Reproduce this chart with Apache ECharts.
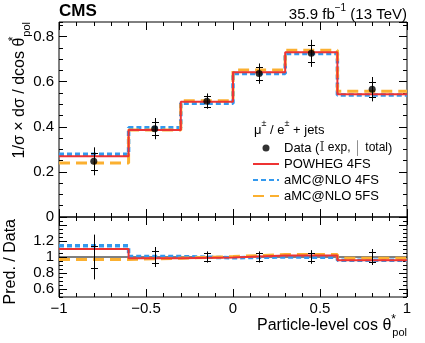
<!DOCTYPE html>
<html><head><meta charset="utf-8">
<script src="https://cdn.jsdelivr.net/npm/echarts@6/dist/echarts.min.js"></script>
<style>html,body{margin:0;padding:0;background:#fff}#c{width:425px;height:343px}</style>
</head><body><div id="c"></div>
<script>
// ---- data ----
const binEdges = [-1, -0.6, -0.3, 0, 0.3, 0.6, 1];
const binCenters = [-0.8, -0.45, -0.15, 0.15, 0.45, 0.8];
const dataValues = [0.247, 0.392, 0.514, 0.636, 0.726, 0.567];
const dataExpErr = [0.037, 0.029, 0.024, 0.030, 0.039, 0.033];
const dataTotErr = [0.062, 0.047, 0.034, 0.045, 0.060, 0.054];
const powheg4FS = [0.270, 0.386, 0.511, 0.642, 0.731, 0.545];
const amcnlo4FS = [0.278, 0.396, 0.505, 0.637, 0.725, 0.541];
const amcnlo5FS = [0.240, 0.386, 0.516, 0.652, 0.740, 0.558];
const ratioPowheg4FS = [1.10, 0.985, 0.995, 1.02, 1.02, 0.96];
const ratioAmcnlo4FS = [1.14, 1.005, 0.99, 1.00, 0.995, 0.96];
const ratioAmcnlo5FS = [0.97, 0.985, 1.005, 1.03, 1.03, 0.985];
const ratioExpErr = [0.14, 0.075, 0.047, 0.046, 0.055, 0.06];
const ratioTotErr = [0.28, 0.125, 0.07, 0.07, 0.085, 0.10];
const ratioTickValues = [0.6, 0.8, 1, 1.2, 1.4];
const ratioTickLabels = [0.6, 0.8, 1, 1.2];
const unityLine = [[-1, 1], [1, 1]];

const FONT = '"Liberation Sans", Arial, Helvetica, sans-serif';
const RED = '#ee3333', BLUE = '#3399ee', ORANGE = '#fbb030';

function stepData(vals) {
  return binEdges.map((e, i) => [e, vals[Math.min(i, vals.length - 1)]]);
}
function errData(center, exp, tot) {
  return binCenters.map((x, i) => [x, center[i], exp[i], tot[i]]);
}
function errRender(params, api) {
  const x = api.value(0), y = api.value(1), e = api.value(2), t = api.value(3);
  const pT = api.coord([x, y + t]), pB = api.coord([x, y - t]);
  const eT = api.coord([x, y + e]), eB = api.coord([x, y - e]);
  const hw = 3.5, st = { stroke: '#000', lineWidth: 1 };
  const cx = Math.round(pT[0]) + 0.5;
  return { type: 'group', children: [
    { type: 'line', shape: { x1: cx, y1: pT[1], x2: cx, y2: pB[1] }, style: st },
    { type: 'line', shape: { x1: cx - hw, y1: Math.round(eT[1]) + 0.5, x2: cx + hw, y2: Math.round(eT[1]) + 0.5 }, style: st },
    { type: 'line', shape: { x1: cx - hw, y1: Math.round(eB[1]) + 0.5, x2: cx + hw, y2: Math.round(eB[1]) + 0.5 }, style: st }
  ]};
}
const fmtX = v => (v < 0 ? '\u2212' + Math.abs(v) : String(v));
const fmtY = v => String(+(+v).toFixed(2));
const TICK = { color: '#000', width: 1 };

function xAx(grid, pos, labels) {
  return {
    type: 'value', gridIndex: grid, position: pos, min: -1, max: 1, interval: 0.5,
    axisLine: { show: false, onZero: false },
    axisTick: { show: true, inside: true, length: 8, lineStyle: TICK },
    minorTick: { show: true, splitNumber: 5, length: 4, lineStyle: TICK },
    splitLine: { show: false },
    axisLabel: { show: labels, formatter: fmtX, color: '#000', fontSize: 15, fontFamily: FONT, margin: 4 }
  };
}
function yMajorTop(pos, labels) {
  return {
    type: 'value', gridIndex: 0, position: pos, min: 0, max: 0.865, interval: 0.2,
    axisLine: { show: false, onZero: false },
    axisTick: { show: true, inside: true, length: 8, lineStyle: TICK },
    splitLine: { show: false },
    axisLabel: { show: labels, showMaxLabel: false, formatter: fmtY, color: '#000', fontSize: 15, fontFamily: FONT, margin: 5 }
  };
}
function yMinor(grid, pos, min, max) {
  return {
    type: 'value', gridIndex: grid, position: pos, min: min, max: max, interval: 0.05,
    axisLine: { show: false, onZero: false },
    axisTick: { show: true, inside: true, length: 4, lineStyle: TICK },
    splitLine: { show: false }, axisLabel: { show: false }
  };
}
function yMajorRatio(pos, labels) {
  return {
    type: 'value', gridIndex: 1, position: pos, min: 0.5, max: 1.5,
    axisLine: { show: false, onZero: false },
    axisTick: { show: true, inside: true, length: 8, customValues: ratioTickValues, lineStyle: TICK },
    splitLine: { show: false },
    axisLabel: { show: labels, customValues: ratioTickLabels, formatter: fmtY, color: '#000', fontSize: 15, fontFamily: FONT, margin: 5 }
  };
}

function stepSeries(name, vals, color, width, type, xi, yi, z) {
  return {
    name: name, type: 'line', xAxisIndex: xi, yAxisIndex: yi, step: 'end',
    data: stepData(vals), symbol: 'none', z: z,
    lineStyle: { color: color, width: width, type: type },
    itemStyle: { color: color }, silent: true
  };
}
function txt(size, extra) {
  return Object.assign({ fontSize: size, color: '#000', fontFamily: FONT, fontWeight: 'normal' }, extra || {});
}

const chart = echarts.init(document.getElementById('c'), null, { renderer: 'canvas' });
chart.setOption({
  animation: false,
  backgroundColor: '#fff',
  textStyle: { fontFamily: FONT },
  grid: [
    { left: 59, top: 22, width: 348, height: 195, show: true, borderColor: '#000', borderWidth: 1, backgroundColor: 'transparent' },
    { left: 59, top: 217, width: 348, height: 80, show: true, borderColor: '#000', borderWidth: 1, backgroundColor: 'transparent' }
  ],
  xAxis: [xAx(0, 'bottom', false), xAx(0, 'top', false), xAx(1, 'bottom', true), xAx(1, 'top', false)],
  yAxis: [
    yMajorTop('left', true), yMajorTop('right', false),
    yMinor(0, 'left', 0, 0.865), yMinor(0, 'right', 0, 0.865),
    yMajorRatio('left', true), yMajorRatio('right', false),
    yMinor(1, 'left', 0.5, 1.5), yMinor(1, 'right', 0.5, 1.5)
  ],
  title: [
    { text: 'CMS', left: 59, top: 3, padding: 0, textStyle: txt(17, { fontWeight: 'bold' }) },
    { text: '{a|35.9 fb}{s|\u22121}{a| (13 TeV)}', right: 18, top: 3, padding: 0,
      textStyle: txt(15, { rich: {
        a: txt(15, { lineHeight: 19, verticalAlign: 'bottom' }),
        s: txt(10, { lineHeight: 10, verticalAlign: 'top' }) } }) },
    { text: '{a|Particle-level cos \u03b8}{s|*}{b|pol}', right: 18, top: 314, padding: 0,
      textStyle: txt(16, { rich: {
        a: txt(16, { lineHeight: 24, verticalAlign: 'middle' }),
        s: txt(12, { lineHeight: 12, verticalAlign: 'top', width: 1 }),
        b: txt(11, { lineHeight: 11, verticalAlign: 'bottom' }) } }) },
    { text: '{a|\u03bc}{s|\u00b1}{a| / e}{s|\u00b1}{a| + jets}', left: 254, top: 119, padding: 0,
      textStyle: txt(13, { rich: {
        a: txt(13, { lineHeight: 18, verticalAlign: 'bottom' }),
        s: txt(9, { lineHeight: 10, verticalAlign: 'top' }) } }) }
  ],
  graphic: [
    { type: 'text', x: 20, y: 22, rotation: Math.PI / 2, silent: true,
      style: { text: '{a|1/\u03c3 \u00d7 d\u03c3 / dcos \u03b8}{s|*}{b|pol}', align: 'right', verticalAlign: 'middle',
        rich: {
          a: { fontSize: 16, fill: '#000', fontFamily: FONT, lineHeight: 24, verticalAlign: 'middle' },
          s: { fontSize: 12, fill: '#000', fontFamily: FONT, lineHeight: 12, verticalAlign: 'top', width: 1 },
          b: { fontSize: 11, fill: '#000', fontFamily: FONT, lineHeight: 11, verticalAlign: 'bottom' } } } },
    { type: 'text', x: 11, y: 219, rotation: Math.PI / 2, silent: true,
      style: { text: 'Pred. / Data', align: 'right', verticalAlign: 'middle', fontSize: 16, fontFamily: FONT, fill: '#000' } }
  ],
  legend: {
    orient: 'vertical', left: 252, top: 140, padding: 0, itemGap: 0,
    itemWidth: 26, itemHeight: 7, selectedMode: false,
    data: [
      { name: 'Data' },
      { name: 'POWHEG 4FS', itemStyle: { opacity: 0 } },
      { name: 'aMC@NLO 4FS', itemStyle: { opacity: 0 } },
      { name: 'aMC@NLO 5FS', itemStyle: { opacity: 0 } }
    ],
    formatter: function (name) {
      if (name === 'Data') return '{a|Data (}{i|I}{e| exp, }{g|\u2502}{e| total}{a|)}';
      return name;
    },
    textStyle: { fontSize: 13, color: '#000', fontFamily: FONT, lineHeight: 16,
      rich: {
        a: { fontSize: 13, fontFamily: FONT, color: '#000', lineHeight: 16 },
        i: { fontSize: 13, fontFamily: '"DejaVu Serif", serif', color: '#444', lineHeight: 16 },
        e: { fontSize: 12, fontFamily: FONT, color: '#000', lineHeight: 16 },
        g: { fontSize: 13, fontFamily: FONT, color: '#888', fontWeight: 'bold', lineHeight: 16 } } }
  },
  series: [
    { name: 'unity', type: 'line', xAxisIndex: 2, yAxisIndex: 4, data: unityLine, symbol: 'none', silent: true, z: 1,
      lineStyle: { color: '#000', width: 1 } },
    stepSeries('aMC@NLO 4FS', amcnlo4FS, BLUE, 3.5, [5, 3], 0, 0, 2),
    stepSeries('aMC@NLO 5FS', amcnlo5FS, ORANGE, 3, [11, 6], 0, 0, 3),
    stepSeries('POWHEG 4FS', powheg4FS, RED, 2, 'solid', 0, 0, 4),
    stepSeries('aMC@NLO 4FS', ratioAmcnlo4FS, BLUE, 3.5, [5, 3], 2, 4, 2),
    stepSeries('aMC@NLO 5FS', ratioAmcnlo5FS, ORANGE, 3, [11, 6], 2, 4, 3),
    stepSeries('POWHEG 4FS', ratioPowheg4FS, RED, 2, 'solid', 2, 4, 4),
    { name: 'dataErr', type: 'custom', xAxisIndex: 0, yAxisIndex: 0, z: 5, silent: true,
      renderItem: errRender, encode: { x: 0, y: 1 }, data: errData(dataValues, dataExpErr, dataTotErr) },
    { name: 'Data', type: 'scatter', xAxisIndex: 0, yAxisIndex: 0, z: 6, symbol: 'circle', symbolSize: 7,
      itemStyle: { color: '#000' }, silent: true,
      data: binCenters.map((x, i) => [x, dataValues[i]]) },
    { name: 'ratioErr', type: 'custom', xAxisIndex: 2, yAxisIndex: 4, z: 5, silent: true,
      renderItem: errRender, encode: { x: 0, y: 1 }, data: errData(binCenters.map(() => 1), ratioExpErr, ratioTotErr) }
  ]
});
</script></body></html>
